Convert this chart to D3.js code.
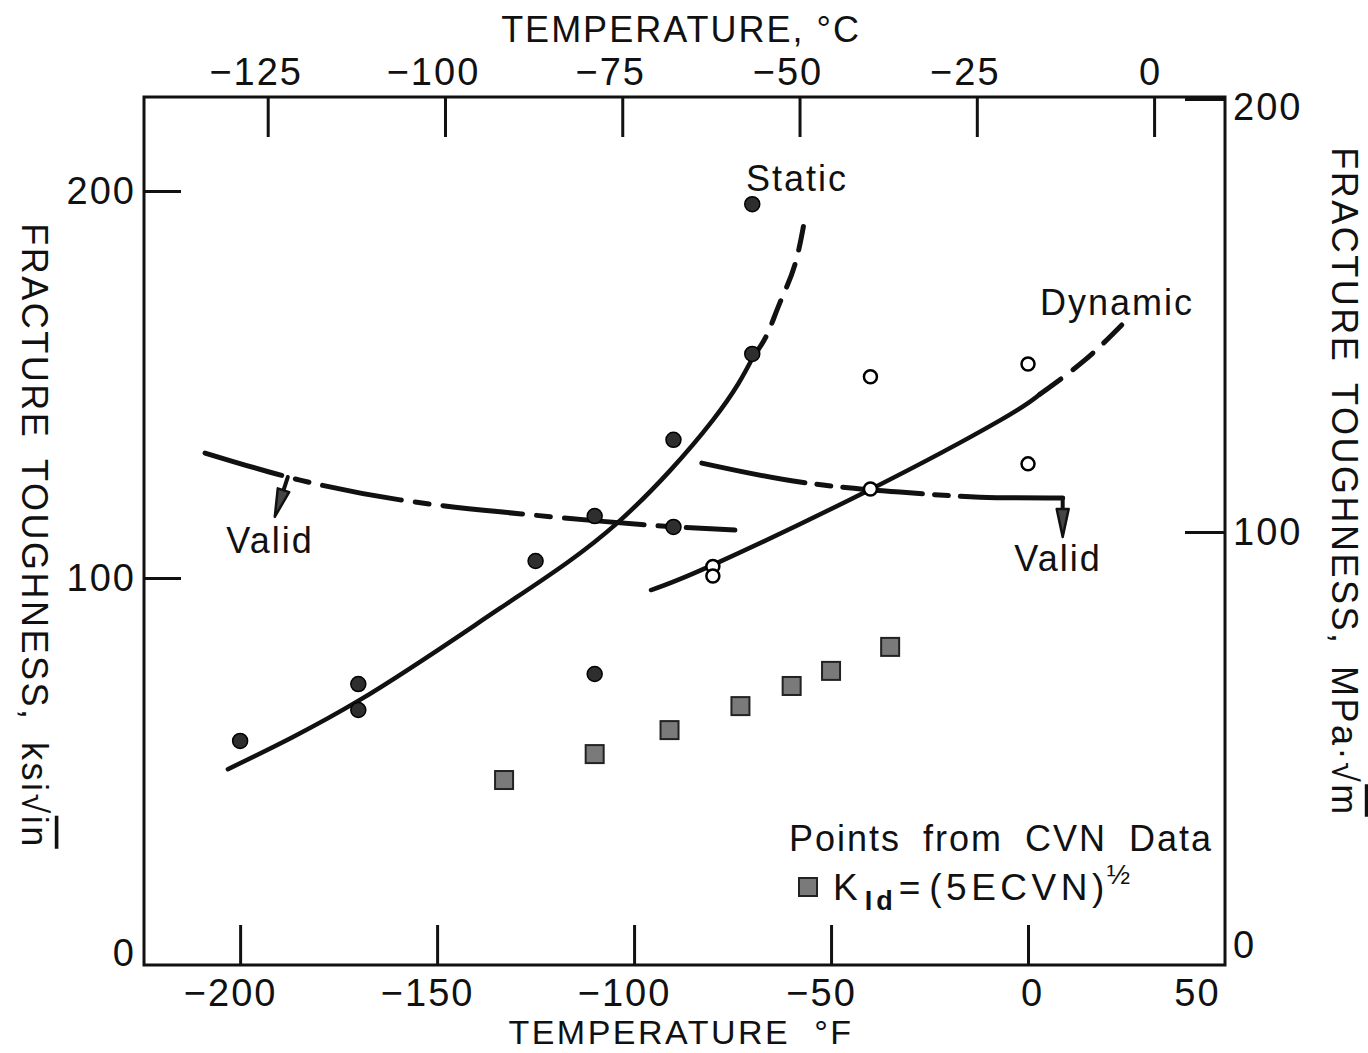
<!DOCTYPE html>
<html><head><meta charset="utf-8">
<script src="https://cdn.jsdelivr.net/npm/d3@7"></script>
<style>
html,body{margin:0;padding:0;background:#fff;}
text{font-family:"Liberation Sans",Arial,sans-serif;fill:#111;}
</style></head>
<body>
<svg id="chart" width="1368" height="1053"></svg>
<script>
// ---- data ----
const xTicksF = [-200, -150, -100, -50, 0, 50];
const xTicksC = [-125, -100, -75, -50, -25, 0];
const yTicksLeft = [0, 100, 200];
const yTicksRight = [0, 100, 200];

// static tests (°F, ksi√in)
const staticT = [-200, -170, -170, -125, -110, -110, -90, -90, -70, -70];
const staticK = [57.9, 72.6, 65.9, 104.4, 116.0, 75.2, 135.7, 113.2, 196.6, 157.9];
// dynamic tests
const dynT = [-80, -80, -40, -40, 0, 0];
const dynK = [103.0, 100.5, 152.0, 123.0, 155.3, 129.5];
// CVN-derived points
const cvnT = [-133, -110, -91, -73, -60, -50, -35];
const cvnK = [47.8, 54.5, 60.7, 66.9, 72.1, 76.0, 82.2];

// fitted curves
const staticSolidT = [-203.1, -169.6, -134.0, -104.3, -80.0, -69.8];
const staticSolidK = [50.6, 68.5, 92.2, 114.2, 140.8, 157.1];
const staticDashT = [-69.8, -66.3, -63.0, -59.2, -56.4];
const staticDashK = [157.1, 162.8, 171.1, 180.9, 194.3];
const dynSolidT = [-95.7, -80.0, -40.4, -7.0, 3.0];
const dynSolidK = [96.9, 103.4, 122.7, 140.8, 147.5];
const dynDashT = [3.0, 14.4, 23.8];
const dynDashK = [147.5, 156.3, 165.4];
// validity limits (dash-dot)
const validLeftT = [-208.9, -184.8, -159.4, -134.0, -108.7, -89.6, -74.4];
const validLeftK = [132.3, 125.3, 120.2, 117.1, 114.7, 113.2, 112.4];
const validRightT = [-82.8, -57.9, -32.5, -12.2, 8.8];
const validRightK = [129.7, 124.8, 122.2, 120.9, 120.7];
const arrowLeftT = [-187.9, -191.2];
const arrowLeftK = [126.1, 115.8];
const arrowRightT = [8.8, 8.8];
const arrowRightK = [120.7, 110.6];

// ---- chart ----
const svg = d3.select("#chart");
svg.append("rect").attr("width",1368).attr("height",1053).attr("fill","#fff");

const L = 144, R = 1225, T = 97, B = 965;
const x = d3.scaleLinear().domain([-224.4, 50]).range([L, R]);
const f2c = f => (f - 32) * 5 / 9;
const xC = d3.scaleLinear().domain([f2c(-224.4), f2c(50)]).range([L, R]);
const y = d3.scaleLinear().domain([0, 224.3]).range([B, T]);
const yR = d3.scaleLinear().domain([0, 200]).range([B, 99]);

const fmt = d => d < 0 ? "\u2212" + Math.abs(d) : String(d);
const tickFont = g => g.selectAll("text").attr("font-size", 38).attr("letter-spacing", 2)
   .attr("fill", "#111").attr("font-family", '"Liberation Sans",Arial,sans-serif');
const tickLine = g => g.selectAll("line").attr("stroke", "#111").attr("stroke-width", 3);

// bottom axis
const gB = svg.append("g").attr("transform", `translate(0,${B})`)
  .call(d3.axisBottom(x).tickValues(xTicksF).tickSize(-40).tickPadding(14).tickFormat(fmt));
gB.select(".domain").remove(); tickFont(gB); tickLine(gB);
gB.selectAll(".tick").filter(d => d === 50).select("line").remove();
gB.selectAll(".tick").filter(d => d < 0).select("text").attr("dx", -10);
gB.selectAll(".tick").filter(d => d === 50).select("text").attr("dx", -28);
gB.selectAll(".tick").filter(d => d === 0).select("text").attr("dx", 4);

// top axis
const gT = svg.append("g").attr("transform", `translate(0,${T})`)
  .call(d3.axisTop(xC).tickValues(xTicksC).tickSize(-40).tickPadding(12).tickFormat(fmt));
gT.select(".domain").remove(); tickFont(gT); tickLine(gT);
gT.selectAll(".tick").filter(d => d < 0).select("text").attr("dx", -12);
gT.selectAll(".tick").filter(d => d === 0).select("text").attr("dx", -4);

// left axis
const gL = svg.append("g").attr("transform", `translate(${L},0)`)
  .call(d3.axisLeft(y).tickValues(yTicksLeft).tickSize(-37).tickPadding(8).tickFormat(fmt));
gL.select(".domain").remove(); tickFont(gL); tickLine(gL);
gL.selectAll(".tick").filter(d => d === 0).select("line").remove();
gL.selectAll(".tick").filter(d => d === 0).select("text").attr("dy", "0.0em");

// right axis
const gR = svg.append("g").attr("transform", `translate(${R},0)`)
  .call(d3.axisRight(yR).tickValues(yTicksRight).tickSize(-40).tickPadding(8).tickFormat(fmt));
gR.select(".domain").remove(); tickFont(gR); tickLine(gR);
gR.selectAll(".tick").filter(d => d === 0).select("line").remove();
gR.selectAll(".tick").filter(d => d === 0).select("text").attr("dy", "-0.2em");
gR.selectAll(".tick").filter(d => d === 200).select("text").attr("dy", "0.55em");

// frame
svg.append("rect").attr("x", L).attr("y", T).attr("width", R - L).attr("height", B - T)
  .attr("fill", "none").attr("stroke", "#111").attr("stroke-width", 3);

// axis titles
svg.append("text").attr("x", 681).attr("y", 42).attr("text-anchor", "middle")
  .attr("font-size", 36).attr("letter-spacing", 2).text("TEMPERATURE, \u00B0C");
svg.append("text").attr("x", 681).attr("y", 1044).attr("text-anchor", "middle")
  .attr("font-size", 34).attr("letter-spacing", 2.5).attr("word-spacing", 12).text("TEMPERATURE  \u00B0F");

function vTitle(cx, cy, main, under) {
  const t = svg.append("text").attr("transform", `translate(${cx},${cy}) rotate(90)`)
    .attr("text-anchor", "middle").attr("dy", "0.35em")
    .attr("font-size", 36).attr("letter-spacing", 2.5).attr("word-spacing", 8);
  t.append("tspan").text(main);
  t.append("tspan").attr("style", "text-decoration: overline").text(under);
}
vTitle(35, 536, "FRACTURE  TOUGHNESS,  ksi\u221A", "in");
vTitle(1345, 482, "FRACTURE  TOUGHNESS,  MPa\u00B7\u221A", "m");

// curves
const line = d3.line().x(d => x(d[0])).y(d => y(d[1])).curve(d3.curveNatural);
const zip = (a, b) => a.map((v, i) => [v, b[i]]);
function curve(ts, ks, dash, w) {
  svg.append("path").datum(zip(ts, ks)).attr("d", line).attr("fill", "none")
    .attr("stroke", "#111").attr("stroke-width", w).attr("stroke-linecap", "round")
    .attr("stroke-linejoin", "round").attr("stroke-dasharray", dash);
}
curve(staticSolidT, staticSolidK, null, 4.5);
curve(staticDashT, staticDashK, "24,15", 5);
curve(dynSolidT, dynSolidK, null, 4.5);
curve(dynDashT, dynDashK, "26,15", 5);
curve(validLeftT, validLeftK, "80,14,14,14", 5);
curve(validRightT, validRightK, "105,12,14,12,80,12,14,12,400", 5);

// arrows
function arrow(ts, ks) {
  const p0 = [x(ts[0]), y(ks[0])], p1 = [x(ts[1]), y(ks[1])];
  const dx = p1[0] - p0[0], dy = p1[1] - p0[1], len = Math.hypot(dx, dy);
  const ux = dx / len, uy = dy / len, head = 28, hw = 6;
  const base = [p1[0] - ux * head, p1[1] - uy * head];
  svg.append("line").attr("x1", p0[0]).attr("y1", p0[1]).attr("x2", base[0]).attr("y2", base[1])
    .attr("stroke", "#111").attr("stroke-width", 4).attr("stroke-linecap", "round");
  svg.append("path").attr("d", d3.line()([
      [base[0] - uy * hw, base[1] + ux * hw], p1, [base[0] + uy * hw, base[1] - ux * hw]]) + "Z")
    .attr("fill", "#444").attr("stroke", "#111").attr("stroke-width", 2.5).attr("stroke-linejoin", "round");
}
arrow(arrowLeftT, arrowLeftK);
arrow(arrowRightT, arrowRightK);

// markers
svg.append("g").selectAll("circle").data(zip(staticT, staticK)).join("circle")
  .attr("cx", d => x(d[0])).attr("cy", d => y(d[1])).attr("r", 7.5)
  .attr("fill", "#2e2e2e").attr("stroke", "#000").attr("stroke-width", 1.5);
svg.append("g").selectAll("circle").data(zip(dynT, dynK)).join("circle")
  .attr("cx", d => x(d[0])).attr("cy", d => y(d[1])).attr("r", 6.5)
  .attr("fill", "#fff").attr("stroke", "#000").attr("stroke-width", 2.5);
svg.append("g").selectAll("rect").data(zip(cvnT, cvnK)).join("rect")
  .attr("x", d => x(d[0]) - 9).attr("y", d => y(d[1]) - 9).attr("width", 18).attr("height", 18)
  .attr("fill", "#7a7a7a").attr("stroke", "#222").attr("stroke-width", 2);

// labels
const lab = (tx, ty, s, anchor) => svg.append("text").attr("x", tx).attr("y", ty)
  .attr("text-anchor", anchor || "middle").attr("font-size", 36).attr("letter-spacing", 2).text(s);
lab(270, 553, "Valid");
lab(1058, 571, "Valid");
lab(797, 191, "Static");
lab(1117, 315, "Dynamic");
lab(1213, 851, "Points  from  CVN  Data", "end").attr("word-spacing", 10);

// legend
svg.append("rect").attr("x", 799).attr("y", 878).attr("width", 18).attr("height", 18)
  .attr("fill", "#7a7a7a").attr("stroke", "#222").attr("stroke-width", 2);
const lg = svg.append("text").attr("x", 833).attr("y", 900).attr("font-size", 37).attr("letter-spacing", 3);
lg.append("tspan").text("K");
lg.append("tspan").attr("font-size", 27).attr("font-weight", "bold").attr("letter-spacing", 4).attr("dx", 4).attr("dy", 10).text("Id");
lg.append("tspan").attr("dy", -10).attr("dx", 2).text("=");
lg.append("tspan").attr("dx", 6).attr("letter-spacing", 4.5).text("(5ECVN)");
lg.append("tspan").attr("font-size", 28).attr("dy", -16).attr("dx", -2).text("\u00BD");
</script>
</body></html>
